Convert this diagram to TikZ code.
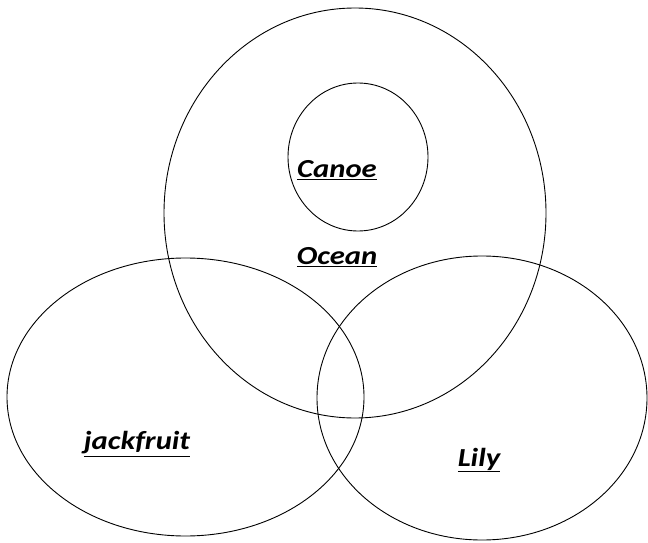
\documentclass[tikz,border=0pt]{standalone}
\usepackage{fontspec}
\usepackage{graphicx}
\setmainfont{Carlito}
\newcommand{\setword}[1]{\scalebox{1.18}[1]{\underline{#1}}}
\tikzset{
  setline/.style={draw=black, line width=0.9pt},
  setlabel/.style={inner sep=0pt, font=\fontsize{26}{30}\selectfont\bfseries\itshape, text=black}
}
\begin{document}
\begin{tikzpicture}[x=1pt,y=-1pt]
\useasboundingbox[fill=white] (0,0) rectangle (648,543);
% sets
\draw[setline] (355,213) ellipse [x radius=191, y radius=205];
\draw[setline] (358,157) ellipse [x radius=70, y radius=74];
\draw[setline] (185.5,397) ellipse [x radius=178.5, y radius=139];
\draw[setline] (482,398) ellipse [x radius=165, y radius=142];
% labels
\node[setlabel] (canoe) at (337,170) {\setword{Canoe}};
\node[setlabel] (ocean) at (337,257) {\setword{Ocean}};
\node[setlabel] (jack) at (137,444) {\setword{jackfruit}};
\node[setlabel] (lily) at (479,460) {\setword{Lily}};
\end{tikzpicture}
\end{document}
